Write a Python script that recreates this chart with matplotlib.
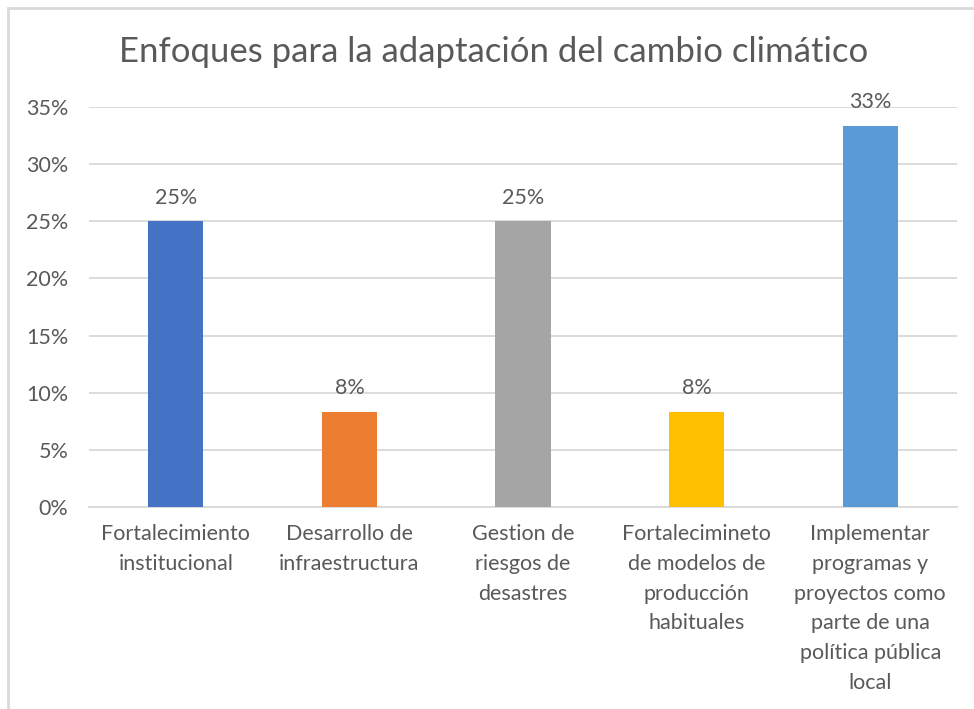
import matplotlib.pyplot as plt
from matplotlib.patches import Rectangle

plt.rcParams['font.family'] = ['Lato', 'DejaVu Sans']

categories = [
    "Fortalecimiento\ninstitucional",
    "Desarrollo de\ninfraestructura",
    "Gestion de\nriesgos de\ndesastres",
    "Fortalecimineto\nde modelos de\nproducción\nhabituales",
    "Implementar\nprogramas y\nproyectos como\nparte de una\npolítica pública\nlocal",
]
values = [25.0, 8.33, 25.0, 8.33, 33.33]
labels = ["25%", "8%", "25%", "8%", "33%"]
colors = ["#4472C4", "#ED7D31", "#A5A5A5", "#FFC000", "#5B9BD5"]
yticks = [0, 5, 10, 15, 20, 25, 30, 35]

txt = "#595959"

fig = plt.figure(figsize=(9.74, 7.09), dpi=100)
fig.patches.append(Rectangle((7.5 / 974, -0.1), 1.2, 1 - 7.5 / 709 + 0.1,
                             transform=fig.transFigure, fill=False,
                             edgecolor="#d9d9d9", linewidth=2))

ax = fig.add_axes([89 / 974, 1 - 507 / 709, (957 - 89) / 974, 400 / 709])
x = list(range(len(values)))
bars = ax.bar(x, values, width=0.317, color=colors, zorder=3)

for xi, v, lab in zip(x, values, labels):
    ax.text(xi, v + 1.2, lab, ha="center", va="bottom", fontsize=15.5, color=txt)

ax.set_xlim(-0.5, 4.5)
ax.set_ylim(0, 35)
ax.set_yticks(yticks)
ax.set_yticklabels([f"{t}%" for t in yticks], fontsize=15.5, color=txt)
ax.set_xticks(x)
ax.set_xticklabels(categories, fontsize=15.5, color=txt, linespacing=1.62)
ax.tick_params(axis="both", length=0)
ax.tick_params(axis="y", pad=15)
ax.tick_params(axis="x", pad=12)
ax.grid(axis="y", color="#d9d9d9", linewidth=1.3, zorder=0)
for s in ["top", "right", "left"]:
    ax.spines[s].set_visible(False)
ax.spines["bottom"].set_color("#d9d9d9")
ax.spines["bottom"].set_linewidth(1.3)

fig.text(494 / 974, 1 - 52 / 709, "Enfoques para la adaptación del cambio climático",
         ha="center", va="center", fontsize=25, color=txt)

fig.savefig("out.png", dpi=100)
